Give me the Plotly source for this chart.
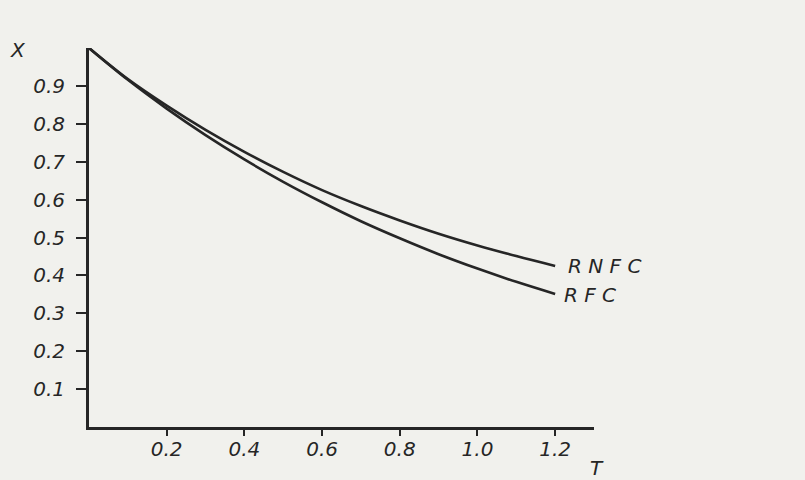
import plotly.graph_objects as go

# Data
T = [0.0, 0.1, 0.2, 0.3, 0.4, 0.5, 0.6, 0.7, 0.8, 0.9, 1.0, 1.1, 1.2]
RNFC = [1.0, 0.918, 0.848, 0.784, 0.726, 0.673, 0.625, 0.583, 0.545, 0.510, 0.479, 0.451, 0.425]
RFC = [1.0, 0.916, 0.840, 0.770, 0.706, 0.647, 0.593, 0.543, 0.498, 0.456, 0.418, 0.383, 0.351]

x_ticks = [0.2, 0.4, 0.6, 0.8, 1.0, 1.2]
x_ticklabels = ["0.2", "0.4", "0.6", "0.8", "1.0", "1.2"]
y_ticks = [0.1, 0.2, 0.3, 0.4, 0.5, 0.6, 0.7, 0.8, 0.9]
y_ticklabels = ["0.1", "0.2", "0.3", "0.4", "0.5", "0.6", "0.7", "0.8", "0.9"]

INK = "#262626"
BG = "#f1f1ed"
FONT = "DejaVu Sans"

fig = go.Figure()
for name, ys in [("RNFC", RNFC), ("RFC", RFC)]:
    fig.add_trace(go.Scatter(
        x=T, y=ys, mode="lines", name=name,
        line=dict(color=INK, width=2.6, shape="spline"),
        cliponaxis=False, showlegend=False,
    ))

fig.add_annotation(x=1.228, y=RNFC[-1], text="<i>R N F C</i>", showarrow=False,
                   xanchor="left", yanchor="middle", font=dict(family=FONT, size=20, color=INK))
fig.add_annotation(x=1.218, y=RFC[-1] - 0.004, text="<i>R F C</i>", showarrow=False,
                   xanchor="left", yanchor="middle", font=dict(family=FONT, size=20, color=INK))

fig.add_annotation(xref="paper", yref="paper", x=-0.1406, y=0.995, text="<i>X</i>",
                   showarrow=False, xanchor="center", yanchor="middle",
                   font=dict(family=FONT, size=20, color=INK))
fig.add_annotation(xref="paper", yref="paper", x=1.006, y=-0.108, text="<i>T</i>",
                   showarrow=False, xanchor="center", yanchor="middle",
                   font=dict(family=FONT, size=20, color=INK))

fig.update_layout(
    width=805, height=480,
    margin=dict(l=89, r=211, t=48, b=53),
    paper_bgcolor=BG, plot_bgcolor=BG,
    font=dict(family=FONT, size=20, color=INK),
    xaxis=dict(
        range=[0, 1.3], tickvals=x_ticks, ticktext=["<i>%s</i>" % s for s in x_ticklabels],
        showgrid=False, zeroline=False, showline=True, linecolor=INK, linewidth=3,
        ticks="outside", ticklen=6, tickwidth=2, tickcolor=INK, ticklabelstandoff=-4,
    ),
    yaxis=dict(
        range=[0, 1.0], tickvals=y_ticks, ticktext=["<i>%s</i>" % s for s in y_ticklabels],
        showgrid=False, zeroline=False, showline=True, linecolor=INK, linewidth=3,
        ticks="outside", ticklen=10, tickwidth=2, tickcolor=INK, ticklabelstandoff=7,
    ),
)

fig.write_html(
    "out.html",
    config={"displayModeBar": False},
    post_script="document.body.style.margin='0';document.body.style.background='%s';" % BG,
)
